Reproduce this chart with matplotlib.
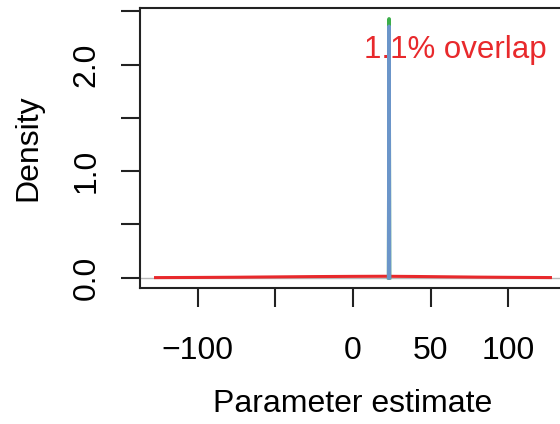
import matplotlib
matplotlib.use("Agg")
import matplotlib.pyplot as plt

plt.rcParams['font.family'] = ['Liberation Sans', 'DejaVu Sans']

# prior density (wide, red)
prior_x = [-127, -100, -75, -50, -25, 0, 20, 40, 60, 80, 100, 127]
prior_y = [0.0005, 0.002, 0.004, 0.007, 0.010, 0.012, 0.013, 0.011, 0.008, 0.005, 0.003, 0.0008]

# two narrow posterior densities (green under blue)
spike_x = [22.9, 23.1, 23.2, 23.3, 23.5]
green_y = [0.0, 1.7, 2.43, 1.7, 0.0]
blue_y = [0.0, 1.6, 2.36, 1.6, 0.0]

overlap_text = "1.1% overlap"
xticks = [-100, -50, 0, 50, 100]
xticklabels = ["\u2212100", "", "0", "50", "100"]
yticks = [0.0, 0.5, 1.0, 1.5, 2.0, 2.5]
yticklabels = ["0.0", "", "1.0", "", "2.0", ""]

fig = plt.figure(figsize=(5.6, 4.24), dpi=100)
ax = fig.add_axes([0.25, 0.3208, 1.0107 - 0.25, 0.98 - 0.3208])

ax.axhline(0, color="#b8b8b8", lw=1.0, zorder=1)
ax.plot(prior_x, prior_y, color="#e8292c", lw=2.2, zorder=2)
ax.plot(spike_x, green_y, color="#3cae4a", lw=2.5, zorder=3)
ax.plot(spike_x, blue_y, color="#6b95c9", lw=2.5, zorder=4)

ax.text(66, 2.06, overlap_text, color="#e8292c", fontsize=22.5,
        ha="center", va="baseline")

ax.set_xlim(-137, 137)
ax.set_ylim(-0.097, 2.527)

ax.spines["right"].set_visible(False)
for s in ["top", "left", "bottom"]:
    ax.spines[s].set_linewidth(1.5)
    ax.spines[s].set_color("#222222")

ax.set_xticks(xticks)
ax.set_xticklabels(xticklabels)
ax.set_yticks(yticks)
ax.set_yticklabels(yticklabels, rotation=90, va="center")
ax.tick_params(axis="both", length=13.5, width=1.5, color="#222222",
               labelsize=23)
ax.tick_params(axis="x", pad=21)
ax.tick_params(axis="y", pad=14)

fig.text(28 / 560, 1 - 148 / 424, "Density", rotation=90, fontsize=23,
         ha="center", va="center")
fig.text(353 / 560, 1 - 404 / 424, "Parameter estimate", fontsize=23,
         ha="center", va="center")

fig.savefig("out.png", dpi=100)
